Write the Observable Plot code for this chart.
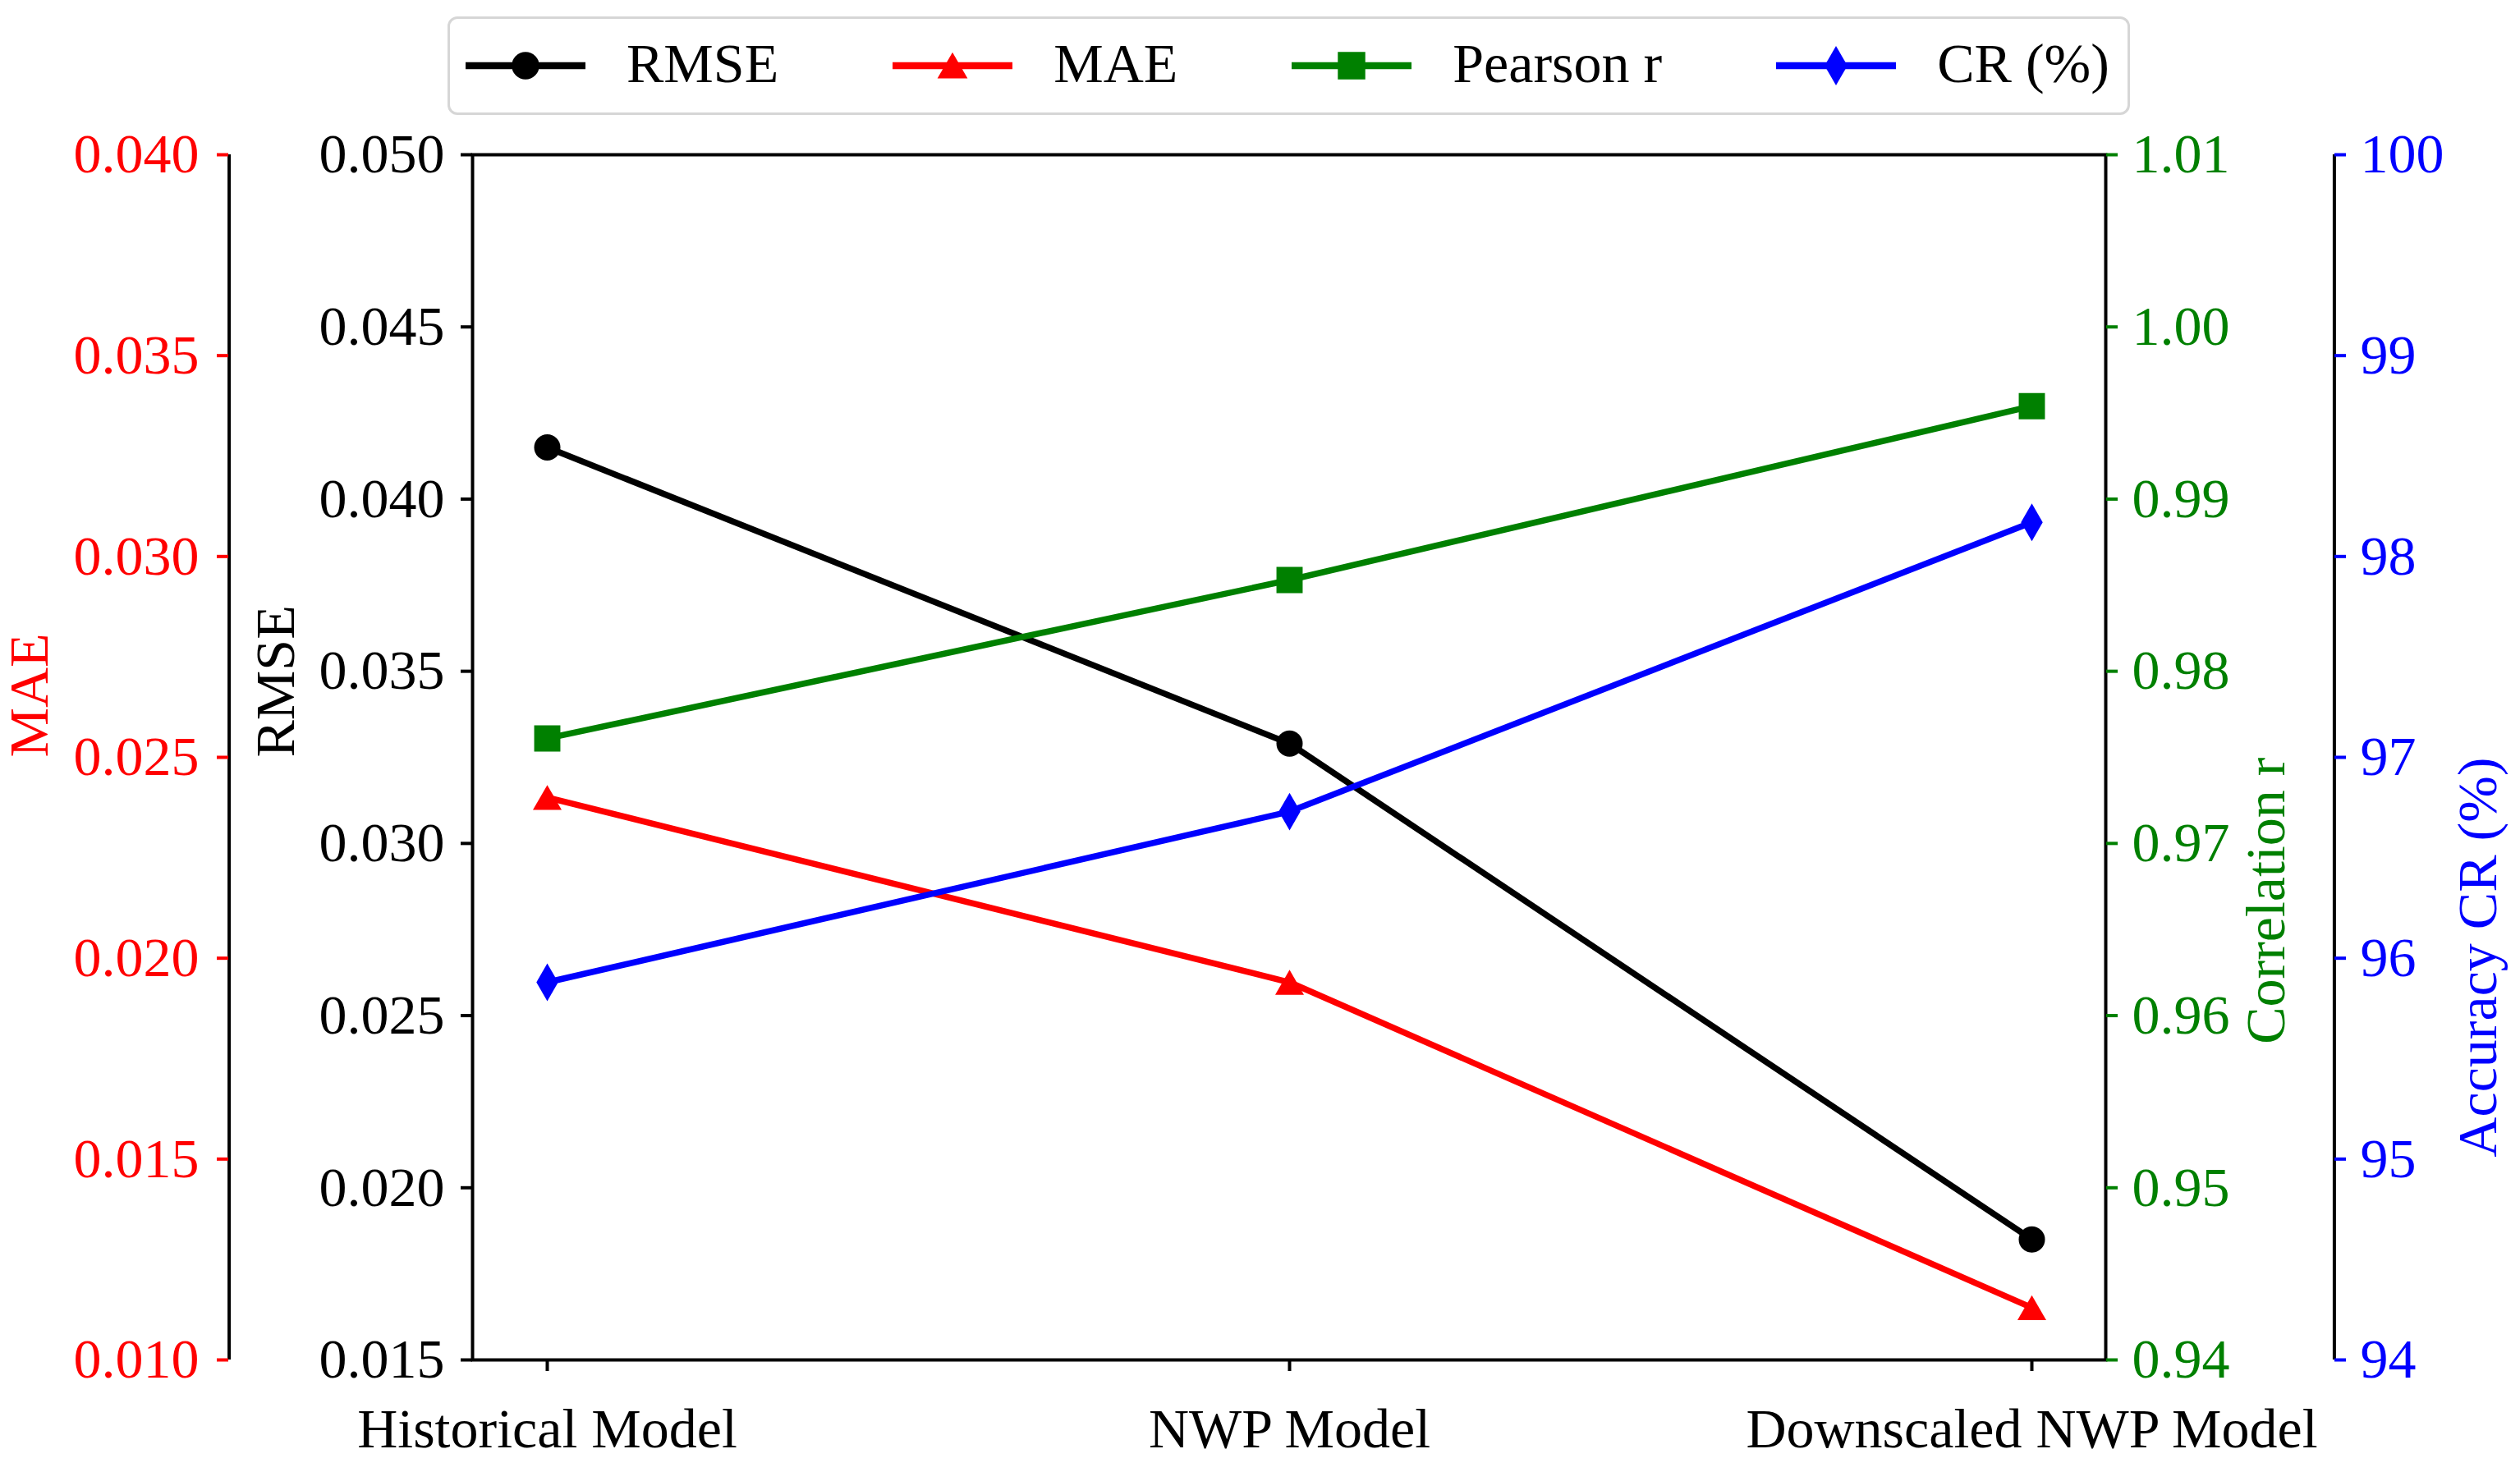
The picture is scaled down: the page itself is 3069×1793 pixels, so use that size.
<!DOCTYPE html>
<html>
<head>
<meta charset="utf-8">
<script src="https://cdn.jsdelivr.net/npm/d3@7"></script>
<script src="https://cdn.jsdelivr.net/npm/@observablehq/plot@0.6"></script>
<style>
  html, body { margin: 0; padding: 0; background: #fff; overflow: hidden; }
  body { width: 3069px; height: 1793px; font-family: "Liberation Serif", "Times New Roman", serif; }
  #legend-wrap { position: relative; width: 3069px; height: 148px; }
  #legend { position: absolute; left: 545px; top: 20px; width: 2049px; height: 120px; box-sizing: border-box;
            border: 3px solid #d6d6d6; border-radius: 12px; display: flex; align-items: center; padding-left: 19px; background: #fff; }
  .item { display: flex; align-items: center; margin-right: 139px; flex-shrink: 0; white-space: nowrap; }
  .item svg { flex-shrink: 0; }
  .item span { font-size: 68px; line-height: 1; margin-left: 50px; color: #000; white-space: nowrap; position: relative; top: -3px; }
  #chart svg { display: block; }
</style>
</head>
<body>
<div id="legend-wrap"><div id="legend"></div></div>
<div id="chart"></div>
<script>
// ---- data ----
const models = ["Historical Model", "NWP Model", "Downscaled NWP Model"];
const rmse = [0.0415, 0.0329, 0.0185];
const mae = [0.0240, 0.0194, 0.0113];
const pearson = [0.9761, 0.9853, 0.9954];
const cr = [95.88, 96.73, 98.17];

const rmseTicks = [0.015, 0.020, 0.025, 0.030, 0.035, 0.040, 0.045, 0.050];
const maeTicks = [0.010, 0.015, 0.020, 0.025, 0.030, 0.035, 0.040];
const corrTicks = [0.94, 0.95, 0.96, 0.97, 0.98, 0.99, 1.00, 1.01];
const crTicks = [94, 95, 96, 97, 98, 99, 100];

const legendNames = ["RMSE", "MAE", "Pearson r", "CR (%)"];
const axisLabels = ["RMSE", "MAE", "Correlation r", "Accuracy CR (%)"];

// ---- series config ----
const series = [
  {key: "RMSE", values: rmse, domain: [0.015, 0.050], ticks: rmseTicks, fmt: d3.format(".3f"), color: "black", symbol: "circle", r: 16, dy: 0},
  {key: "MAE", values: mae, domain: [0.010, 0.040], ticks: maeTicks, fmt: d3.format(".3f"), color: "red", symbol: "triangle", r: 13, dy: 5},
  {key: "Pearson r", values: pearson, domain: [0.94, 1.01], ticks: corrTicks, fmt: d3.format(".2f"), color: "green", symbol: "square", r: 18, dy: 0},
  {key: "CR (%)", values: cr, domain: [94, 100], ticks: crTicks, fmt: d3.format("d"), color: "blue", symbol: "diamond", r: 13.9, dy: 0}
];
series.forEach(s => {
  s.norm = v => (v - s.domain[0]) / (s.domain[1] - s.domain[0]);
  s.inv = t => s.domain[0] + t * (s.domain[1] - s.domain[0]);
  s.rows = models.map((m, i) => ({model: m, v: s.norm(s.values[i])}));
});

// ---- layout ----
const W = 3069, H = 1793 - 148;
const mL = 575, mR = W - 2564, mT = 40, mB = H - (1656 - 148);
const fs = 68, lw = 4;
const font = '"Liberation Serif", "Times New Roman", serif';
const step = (W - mL - mR) / (models.length - 1 + 0.2);
const firstX = mL + 0.1 * step, lastX = W - mR - 0.1 * step;
const maeSpineDx = 278 - mL;      // offset of the MAE axis from the frame
const crSpineDx = 2842 - (W - mR); // offset of the CR axis from the frame

const axisCommon = {tickSize: 14, strokeWidth: lw, fontSize: fs, fontFamily: font, fontVariant: "normal", label: null};

const marks = [
  Plot.frame({stroke: "black", strokeWidth: lw}),
  Plot.ruleX([models[0]], {x: d => d, y1: 0, y2: 1, dx: 278 - firstX, stroke: "black", strokeWidth: lw}),
  Plot.ruleX([models[2]], {x: d => d, y1: 0, y2: 1, dx: 2842 - lastX, stroke: "black", strokeWidth: lw}),
  Plot.axisY(series[0].ticks.map(series[0].norm), {...axisCommon, anchor: "left", tickPadding: 20, color: "black", tickFormat: d => series[0].fmt(series[0].inv(d))}),
  Plot.axisY(series[1].ticks.map(series[1].norm), {...axisCommon, anchor: "left", tickPadding: 22, dx: maeSpineDx, color: "red", tickFormat: d => series[1].fmt(series[1].inv(d))}),
  Plot.axisY(series[2].ticks.map(series[2].norm), {...axisCommon, anchor: "right", tickPadding: 18, color: "green", tickFormat: d => series[2].fmt(series[2].inv(d))}),
  Plot.axisY(series[3].ticks.map(series[3].norm), {...axisCommon, anchor: "right", tickPadding: 18, dx: crSpineDx, color: "blue", tickFormat: d => series[3].fmt(series[3].inv(d))}),
  Plot.axisX(models, {...axisCommon, anchor: "bottom", tickPadding: 44, color: "black"}),
  Plot.text([axisLabels[1]], {text: d => d, frameAnchor: "left", dx: 36 - mL, rotate: -90, fill: "red", fontSize: fs, fontFamily: font}),
  Plot.text([axisLabels[0]], {text: d => d, frameAnchor: "left", dx: 336 - mL, rotate: -90, fill: "black", fontSize: fs, fontFamily: font}),
  Plot.text([axisLabels[2]], {text: d => d, frameAnchor: "right", dx: 2760 - (W - mR), rotate: -90, fill: "green", fontSize: fs, fontFamily: font}),
  Plot.text([axisLabels[3]], {text: d => d, frameAnchor: "right", dx: 3018 - (W - mR), rotate: -90, fill: "blue", fontSize: fs, fontFamily: font})
];
series.forEach(s => {
  marks.push(Plot.line(s.rows, {x: "model", y: "v", stroke: s.color, strokeWidth: 7.5, strokeLinejoin: "round"}));
  marks.push(Plot.dot(s.rows, {x: "model", y: "v", symbol: s.symbol, r: s.r, fill: s.color, stroke: "none", dy: s.dy}));
});

const chart = Plot.plot({
  width: W, height: H,
  marginLeft: mL, marginRight: mR, marginTop: mT, marginBottom: mB,
  style: {fontFamily: font, fontSize: fs + "px", background: "white", overflow: "visible"},
  x: {type: "point", domain: models, padding: 0.1, axis: null},
  y: {domain: [0, 1], axis: null},
  marks
});
document.getElementById("chart").appendChild(chart);

// ---- legend ----
const legend = d3.select("#legend");
series.forEach((s, i) => {
  const item = legend.append("div").attr("class", "item");
  const sw = item.append("svg").attr("width", 146).attr("height", 60);
  sw.append("line").attr("x1", 0).attr("x2", 146).attr("y1", 30).attr("y2", 30)
    .attr("stroke", s.color).attr("stroke-width", 8.5);
  const sym = {circle: d3.symbolCircle, triangle: d3.symbolTriangle, square: d3.symbolSquare, diamond: d3.symbolDiamond}[s.symbol];
  sw.append("path").attr("d", d3.symbol(sym, Math.PI * s.r * s.r * 1.1)())
    .attr("transform", `translate(73,${30 + s.dy})`).attr("fill", s.color);
  item.append("span").text(legendNames[i]);
});
</script>
</body>
</html>
